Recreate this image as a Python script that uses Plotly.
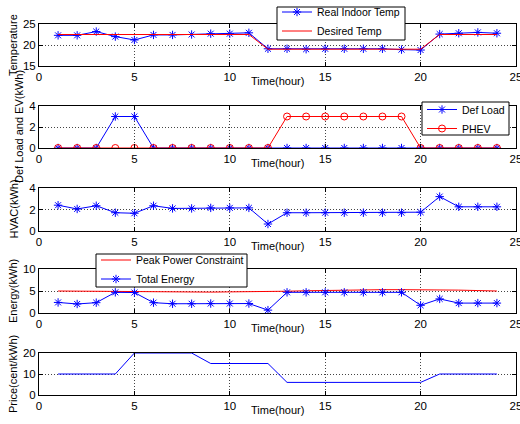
import plotly.graph_objects as go

hours = list(range(1, 25))

real_temp = [22.3, 22.3, 23.2, 22.0, 21.2, 22.4, 22.4, 22.5, 22.7, 22.7, 22.9, 19.1,
             19.1, 19.0, 19.1, 19.1, 19.1, 19.1, 18.9, 18.8, 22.6, 22.8, 23.0, 22.8]
desired_temp = [22.5] * 11 + [19.0] * 9 + [22.5] * 4

def_load = [0, 0, 0, 3, 3, 0, 0, 0, 0, 0, 0, 0, 0, 0, 0, 0, 0, 0, 0, 0, 0, 0, 0, 0]
phev = [0, 0, 0, 0, 0, 0, 0, 0, 0, 0, 0, 0, 3, 3, 3, 3, 3, 3, 3, 0, 0, 0, 0, 0]

hvac = [2.4, 2.05, 2.35, 1.7, 1.65, 2.35, 2.1, 2.1, 2.15, 2.15, 2.15, 0.65,
        1.7, 1.7, 1.7, 1.7, 1.7, 1.7, 1.7, 1.75, 3.2, 2.25, 2.25, 2.25]

total_energy = [2.4, 2.05, 2.35, 4.7, 4.65, 2.35, 2.1, 2.1, 2.15, 2.15, 2.15, 0.65,
                4.7, 4.7, 4.7, 4.7, 4.7, 4.7, 4.7, 1.75, 3.2, 2.25, 2.25, 2.25]
peak_power = [5.0, 4.95, 4.9, 4.85, 4.8, 4.75, 4.75, 4.75, 4.75, 4.8, 4.8, 4.85,
              4.95, 5.05, 5.15, 5.2, 5.25, 5.3, 5.3, 5.3, 5.25, 5.2, 5.1, 5.0]

price = [10, 10, 10, 10, 20, 20, 20, 20, 15, 15, 15, 15,
         6, 6, 6, 6, 6, 6, 6, 6, 10, 10, 10, 10]

x_ticks = [0, 5, 10, 15, 20, 25]
y_ticks = [[15, 20, 25], [0, 2, 4], [0, 2, 4], [0, 5, 10], [0, 10, 20]]
y_ranges = [[15, 25], [0, 4], [0, 4], [0, 10], [0, 20]]
y_titles = ["Temperature", "Def Load and EV(kWh)", "HVAC(kWh)", "Energy(kWh)", "Price(cent/kWh)"]

BLUE = "#0000FF"
RED = "#FF0000"
FONT = "Liberation Sans, Arial, sans-serif"
W, H = 520, 424

# pixel boxes of the axes (top, bottom)
x_left, x_right = 39, 516
boxes = [(24, 66), (106, 148), (188, 231), (269, 313), (353, 395)]

star = dict(symbol="asterisk", size=7, color=BLUE, line=dict(color=BLUE, width=1))
circ = dict(symbol="circle-open", size=7, color=RED, line=dict(color=RED, width=1))

fig = go.Figure()
fig.add_trace(go.Scatter(x=hours, y=real_temp, mode="lines+markers", name="Real Indoor Temp",
                         line=dict(color=BLUE, width=1), marker=star, xaxis="x", yaxis="y",
                         legend="legend"))
fig.add_trace(go.Scatter(x=hours, y=desired_temp, mode="lines", name="Desired Temp",
                         line=dict(color=RED, width=1), xaxis="x", yaxis="y", legend="legend"))
fig.add_trace(go.Scatter(x=hours, y=def_load, mode="lines+markers", name="Def Load",
                         line=dict(color=BLUE, width=1), marker=star, xaxis="x2", yaxis="y2",
                         legend="legend2"))
fig.add_trace(go.Scatter(x=hours, y=phev, mode="lines+markers", name="PHEV",
                         line=dict(color=RED, width=1), marker=circ, xaxis="x2", yaxis="y2",
                         legend="legend2"))
fig.add_trace(go.Scatter(x=hours, y=hvac, mode="lines+markers", name="HVAC",
                         line=dict(color=BLUE, width=1), marker=star, xaxis="x3", yaxis="y3",
                         showlegend=False))
fig.add_trace(go.Scatter(x=hours, y=peak_power, mode="lines", name="Peak Power Constraint",
                         line=dict(color=RED, width=1), xaxis="x4", yaxis="y4", legend="legend3"))
fig.add_trace(go.Scatter(x=hours, y=total_energy, mode="lines+markers", name="Total Energy",
                         line=dict(color=BLUE, width=1), marker=star, xaxis="x4", yaxis="y4",
                         legend="legend3"))
fig.add_trace(go.Scatter(x=hours, y=price, mode="lines", name="Price",
                         line=dict(color=BLUE, width=1), xaxis="x5", yaxis="y5",
                         showlegend=False))

layout = dict(
    width=W, height=H, margin=dict(l=0, r=0, t=0, b=0, autoexpand=False),
    paper_bgcolor="white", plot_bgcolor="white",
    font=dict(family=FONT, size=11, color="black"),
)

axis_common = dict(
    showline=True, linecolor="black", linewidth=1, mirror="ticks",
    ticks="inside", ticklen=4, tickcolor="black", tickwidth=1,
    showgrid=True, gridcolor="#444444", griddash="1px,2px", gridwidth=1,
    zeroline=False, tickfont=dict(family=FONT, size=11.5, color="black"),
    automargin=False, ticklabeloverflow="allow",
)

annotations = []
for i, (top, bot) in enumerate(boxes):
    n = "" if i == 0 else str(i + 1)
    ydom = [1 - bot / H, 1 - top / H]
    layout["xaxis" + n] = dict(axis_common, domain=[x_left / W, x_right / W], range=[0, 25],
                               tickvals=x_ticks, anchor="y" + n)
    layout["yaxis" + n] = dict(axis_common, domain=ydom, range=y_ranges[i],
                               tickvals=y_ticks[i], anchor="x" + n)
    annotations.append(dict(text="Time(hour)", xref="paper", yref="paper",
                            x=(x_left + x_right) / 2 / W, y=1 - (bot + 15) / H,
                            showarrow=False, xanchor="center", yanchor="middle",
                            font=dict(family=FONT, size=11, color="black")))
    xpos = 19 if i == 1 else 13
    annotations.append(dict(text=y_titles[i], xref="paper", yref="paper",
                            x=xpos / W, y=1 - (top + bot) / 2 / H, textangle=-90,
                            showarrow=False, xanchor="center", yanchor="middle",
                            font=dict(family=FONT, size=11, color="black")))

# legend frames (pixel boxes: left, top, right, bottom) and legend anchor tops
legend_boxes = [(277, 7, 405, 40), (422, 102, 509, 135), (96, 254, 247, 287)]
legend_tops = [-2.5, 95, 245.5]
legend_names = ["legend", "legend2", "legend3"]

shapes = []
for (l, t, r, b), top, name in zip(legend_boxes, legend_tops, legend_names):
    shapes.append(dict(type="rect", xref="paper", yref="paper", layer="above",
                       x0=l / W, x1=r / W, y0=1 - b / H, y1=1 - t / H,
                       fillcolor="white", line=dict(color="black", width=1)))
    layout[name] = dict(bgcolor="rgba(0,0,0,0)", borderwidth=0, itemwidth=30,
                        font=dict(family=FONT, size=10.5, color="black"),
                        xanchor="left", yanchor="top", tracegroupgap=0,
                        x=l / W, y=1 - top / H)

layout["annotations"] = annotations
layout["shapes"] = shapes

fig.update_layout(**layout)
fig.write_html("out.html", config={"displayModeBar": False},
               post_script="document.body.style.margin='0px';document.body.style.overflow='hidden';")
